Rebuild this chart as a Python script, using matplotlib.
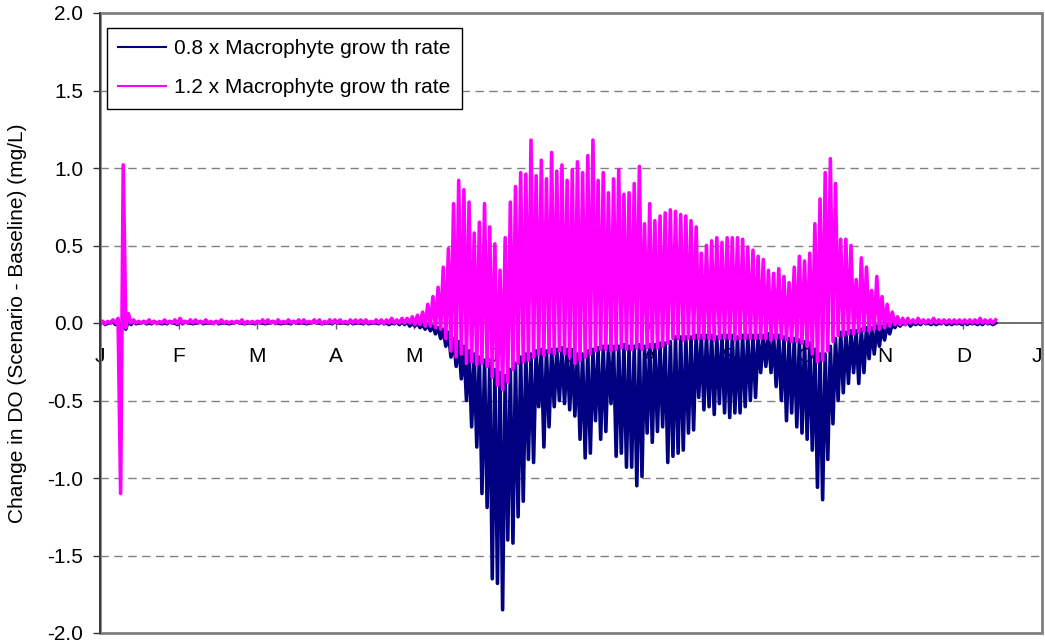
import numpy as np
import matplotlib

matplotlib.use("Agg")
import matplotlib.pyplot as plt
from matplotlib.patches import Rectangle


# Values: one trough and one peak per two-day step,
# starting at 1 January (step i covers days 2i and 2i+1).
PINK_PEAK = [
    0.01, 0.01, 0.02, 0.03, 1.02, 0.06, 0.02, 0.01, 0.01, 0.02,
    0.01, 0.01, 0.02, 0.01, 0.02, 0.03, 0.01, 0.02, 0.02, 0.01,
    0.02, 0.01, 0.01, 0.02, 0.01, 0.01, 0.01, 0.02, 0.01, 0.01,
    0.01, 0.02, 0.02, 0.01, 0.02, 0.01, 0.02, 0.01, 0.02, 0.02,
    0.01, 0.02, 0.02, 0.01, 0.02, 0.02, 0.02, 0.01, 0.02, 0.02,
    0.02, 0.02, 0.01, 0.02, 0.02, 0.02, 0.03, 0.02,
    0.03, 0.03, 0.04, 0.05, 0.07, 0.12, 0.17, 0.23, 0.36, 0.48,
    0.77, 0.92, 0.86, 0.78, 0.58, 0.65, 0.77, 0.62, 0.51, 0.34,
    0.55, 0.78, 0.88, 0.97, 0.96, 1.18, 0.95, 1.05, 0.93, 1.10,
    0.98, 1.02, 0.92, 0.99, 1.04, 0.97, 1.08, 1.18, 0.92, 0.97,
    0.84, 0.93, 0.99, 0.83, 0.84, 0.90, 1.01, 0.64, 0.77, 0.66,
    0.69, 0.71, 0.73, 0.72, 0.70, 0.69, 0.66, 0.62, 0.45, 0.50,
    0.53, 0.55, 0.52, 0.55, 0.55, 0.55, 0.54, 0.49, 0.47, 0.43,
    0.41, 0.34, 0.32, 0.35, 0.30, 0.26, 0.36, 0.43, 0.40, 0.45,
    0.64, 0.80, 0.97, 1.06, 0.90, 0.54, 0.54, 0.50, 0.28, 0.42,
    0.36, 0.21, 0.30, 0.17, 0.12, 0.07, 0.04, 0.03, 0.03, 0.02,
    0.03, 0.02, 0.02, 0.03, 0.02, 0.02, 0.02, 0.02, 0.02, 0.02,
    0.02, 0.02, 0.03, 0.02, 0.02, 0.02,
]
PINK_TROUGH = [
    0.0, -0.005, 0.0, 0.0, -1.10, -0.03, 0.0, 0.0, 0.0, 0.0,
    0.0, -0.005, 0.0, 0.0, 0.0, -0.005, 0.0, 0.0, 0.0, 0.0,
    0.0, 0.0, -0.005, 0.0, 0.0, 0.0, 0.0, 0.0, -0.005, 0.0,
    0.0, 0.0, 0.0, 0.0, -0.005, 0.0, 0.0, 0.0, 0.0, 0.0,
    0.0, 0.0, 0.0, -0.005, 0.0, 0.0, 0.0, 0.0, 0.0, 0.0,
    0.0, 0.0, 0.0, 0.0, 0.0, -0.005, 0.0, 0.0,
    0.0, 0.0, 0.0, -0.01, -0.01, -0.02, -0.02, -0.03, -0.04, -0.10,
    -0.18, -0.22, -0.20, -0.26, -0.25, -0.27, -0.26, -0.28, -0.35, -0.40,
    -0.43, -0.38, -0.30, -0.26, -0.25, -0.24, -0.22, -0.20, -0.21, -0.19,
    -0.20, -0.18, -0.20, -0.22, -0.26, -0.24, -0.22, -0.20, -0.18, -0.17,
    -0.17, -0.18, -0.17, -0.16, -0.17, -0.17, -0.16, -0.17, -0.16, -0.16,
    -0.16, -0.15, -0.13, -0.10, -0.10, -0.11, -0.10, -0.10, -0.10, -0.10,
    -0.10, -0.11, -0.10, -0.10, -0.10, -0.11, -0.10, -0.10, -0.10, -0.10,
    -0.10, -0.10, -0.11, -0.10, -0.10, -0.11, -0.12, -0.12, -0.13, -0.15,
    -0.20, -0.25, -0.24, -0.18, -0.12, -0.08, -0.08, -0.07, -0.07, -0.06,
    -0.05, -0.05, -0.04, -0.04, -0.03, -0.02, -0.01, -0.01, -0.01, 0.0,
    0.0, 0.0, 0.0, 0.0, 0.0, 0.0, 0.0, 0.0, 0.0, 0.0,
    0.0, 0.0, 0.0, 0.0, 0.0, 0.0,
]
NAVY_PEAK = [
    0.01, 0.0, 0.01, 0.02, 0.05, 0.02, 0.01, 0.0, 0.01, 0.0,
    0.01, 0.0, 0.0, 0.01, 0.0, 0.02, 0.01, 0.0, 0.0, 0.01,
    0.0, 0.0, 0.01, 0.0, 0.0, 0.0, 0.01, 0.0, 0.0, 0.0,
    0.01, 0.0, 0.0, 0.01, 0.0, 0.0, 0.0, 0.01, 0.0, 0.0,
    0.0, 0.01, 0.0, 0.0, 0.0, 0.01, 0.0, 0.0, 0.01, 0.0,
    0.0, 0.01, 0.0, 0.0, 0.01, 0.0, 0.0, 0.01,
    0.01, 0.01, 0.0, 0.0, -0.01, -0.01, -0.02, -0.03, -0.04, -0.06,
    -0.10, -0.12, -0.15, -0.18, -0.20, -0.22, -0.24, -0.26, -0.30, -0.32,
    -0.34, -0.30, -0.26, -0.22, -0.20, -0.20, -0.18, -0.17, -0.18, -0.17,
    -0.17, -0.16, -0.17, -0.18, -0.20, -0.20, -0.18, -0.17, -0.16, -0.15,
    -0.15, -0.15, -0.15, -0.14, -0.15, -0.15, -0.14, -0.15, -0.14, -0.14,
    -0.13, -0.13, -0.12, -0.09, -0.09, -0.09, -0.09, -0.08, -0.08, -0.08,
    -0.08, -0.09, -0.08, -0.08, -0.08, -0.09, -0.08, -0.08, -0.08, -0.08,
    -0.08, -0.07, -0.08, -0.08, -0.09, -0.10, -0.10, -0.11, -0.12, -0.13,
    -0.17, -0.20, -0.20, -0.15, -0.10, -0.06, -0.06, -0.05, -0.05, -0.04,
    -0.03, -0.03, -0.02, -0.02, -0.01, 0.0, 0.0, 0.0, 0.01, 0.0,
    0.0, 0.01, 0.0, 0.0, 0.0, 0.01, 0.0, 0.0, 0.0, 0.01,
    0.0, 0.0, 0.0, 0.01, 0.0, 0.0,
]
NAVY_TROUGH = [
    -0.005, -0.01, 0.0, -0.01, -0.10, -0.04, -0.01, -0.005, 0.0, -0.005,
    -0.005, 0.0, -0.005, -0.005, 0.0, -0.01, -0.005, 0.0, -0.005, 0.0,
    -0.005, 0.0, 0.0, -0.005, 0.0, -0.005, 0.0, 0.0, -0.005, 0.0,
    -0.005, 0.0, -0.005, 0.0, 0.0, -0.005, 0.0, -0.005, 0.0, 0.0,
    -0.005, 0.0, 0.0, -0.005, 0.0, -0.005, 0.0, 0.0, -0.005, -0.005,
    0.0, -0.005, -0.005, 0.0, -0.005, -0.005, -0.01, -0.005,
    -0.01, -0.01, -0.02, -0.02, -0.03, -0.04, -0.05, -0.07, -0.10, -0.15,
    -0.22, -0.28, -0.36, -0.50, -0.67, -0.80, -1.10, -1.19, -1.65, -1.68,
    -1.85, -1.40, -1.42, -1.25, -1.15, -0.88, -0.90, -0.54, -0.80, -0.67,
    -0.54, -0.50, -0.52, -0.56, -0.60, -0.75, -0.87, -0.84, -0.63, -0.75,
    -0.70, -0.52, -0.86, -0.84, -0.93, -0.93, -1.05, -0.99, -0.71, -0.77,
    -0.70, -0.67, -0.90, -0.86, -0.84, -0.82, -0.71, -0.69, -0.48, -0.56,
    -0.54, -0.59, -0.52, -0.58, -0.61, -0.58, -0.58, -0.54, -0.50, -0.48,
    -0.32, -0.28, -0.32, -0.41, -0.50, -0.63, -0.58, -0.67, -0.71, -0.75,
    -0.82, -1.06, -1.14, -0.88, -0.65, -0.50, -0.45, -0.39, -0.32, -0.39,
    -0.32, -0.23, -0.20, -0.15, -0.11, -0.07, -0.03, -0.02, -0.01, -0.02,
    -0.01, -0.01, -0.005, -0.01, -0.01, -0.005, -0.01, -0.01, -0.005, -0.01,
    -0.01, -0.005, -0.01, -0.01, -0.005, -0.01,
]

MONTH_LABELS = ["J", "F", "M", "A", "M", "J", "J", "A", "S", "O", "N", "D", "J"]
Y_TICKS = [-2.0, -1.5, -1.0, -0.5, 0.0, 0.5, 1.0, 1.5, 2.0]
SERIES_LABELS = ["0.8 x Macrophyte grow th rate", "1.2 x Macrophyte grow th rate"]

NAVY = "#000080"
MAGENTA = "#FF00FF"
DAYS_IN_YEAR = 365
FONT_SIZE = 15


def zigzag(troughs, peaks):
    # trough on the first day of each two-day step, peak on the second
    n = len(troughs)
    days = np.empty(2 * n)
    days[0::2] = np.arange(n) * 2
    days[1::2] = np.arange(n) * 2 + 1
    values = np.empty(2 * n)
    values[0::2] = troughs
    values[1::2] = peaks
    return days, values


def main() -> None:
    plt.rcParams["font.family"] = ["Liberation Sans", "DejaVu Sans"]
    plt.rcParams["font.size"] = FONT_SIZE

    fig = plt.figure(figsize=(10.45, 6.44), dpi=100)
    ax = fig.add_axes([100 / 1045, 11 / 644, 942 / 1045, 620 / 644])

    x_navy, y_navy = zigzag(NAVY_TROUGH, NAVY_PEAK)
    x_pink, y_pink = zigzag(PINK_TROUGH, PINK_PEAK)
    ax.plot(x_navy, y_navy, color=NAVY, linewidth=2.6, solid_joinstyle="round",
            label=SERIES_LABELS[0], zorder=3)
    ax.plot(x_pink, y_pink, color=MAGENTA, linewidth=2.6, solid_joinstyle="round",
            label=SERIES_LABELS[1], zorder=4)

    ax.set_xlim(0, DAYS_IN_YEAR)
    ax.set_ylim(-2.0, 2.0)

    # dashed gridlines, solid frame
    for value in Y_TICKS:
        if value in (-2.0, 0.0, 2.0):
            continue
        ax.axhline(value, color="#808080", linewidth=1.0, linestyle=(0, (6, 4)), zorder=1)

    for side in ("top", "right"):
        ax.spines[side].set_visible(False)
    ax.add_patch(
        Rectangle((0, 0), 1, 1, transform=ax.transAxes, fill=False,
                  edgecolor="#808080", linewidth=2.0, zorder=2, clip_on=False)
    )
    ax.spines["left"].set_color("#333333")
    ax.spines["left"].set_linewidth(1.3)
    ax.spines["left"].set_zorder(5)
    ax.spines["bottom"].set_position(("data", 0))
    ax.spines["bottom"].set_color("#606060")
    ax.spines["bottom"].set_linewidth(1.3)

    ax.set_yticks(Y_TICKS)
    ax.set_yticklabels([f"{v:.1f}" for v in Y_TICKS])
    ax.tick_params(axis="y", direction="out", length=5, width=1, color="#333333", pad=7,
                   labelsize=FONT_SIZE)

    month_ticks = [i * DAYS_IN_YEAR / 12 for i in range(13)]
    ax.set_xticks(month_ticks)
    ax.set_xticklabels(MONTH_LABELS)
    ax.tick_params(axis="x", direction="out", length=4, width=1, color="#606060", pad=13,
                   labelsize=FONT_SIZE)
    x_labels = ax.get_xticklabels()
    for label in x_labels:
        label.set_zorder(6)
    # keep the last month letter inside the figure
    x_labels[-1].set_horizontalalignment("right")

    ax.set_ylabel("Change in DO (Scenario - Baseline) (mg/L)", fontsize=FONT_SIZE)
    ax.yaxis.set_label_coords(-73 / 942, 0.5)

    legend = ax.legend(
        loc="upper left",
        bbox_to_anchor=(107 / 1045, 1 - 28 / 644),
        bbox_transform=fig.transFigure,
        borderaxespad=0,
        fancybox=False,
        framealpha=1,
        edgecolor="black",
        fontsize=FONT_SIZE,
        handlelength=2.3,
        handletextpad=0.35,
        labelspacing=0.95,
        borderpad=0.55,
    )
    legend.get_frame().set_linewidth(1.0)
    legend.set_zorder(7)
    for handle in legend.get_lines():
        handle.set_linewidth(1.5)

    fig.savefig("out.png", dpi=100)


if __name__ == "__main__":
    main()
